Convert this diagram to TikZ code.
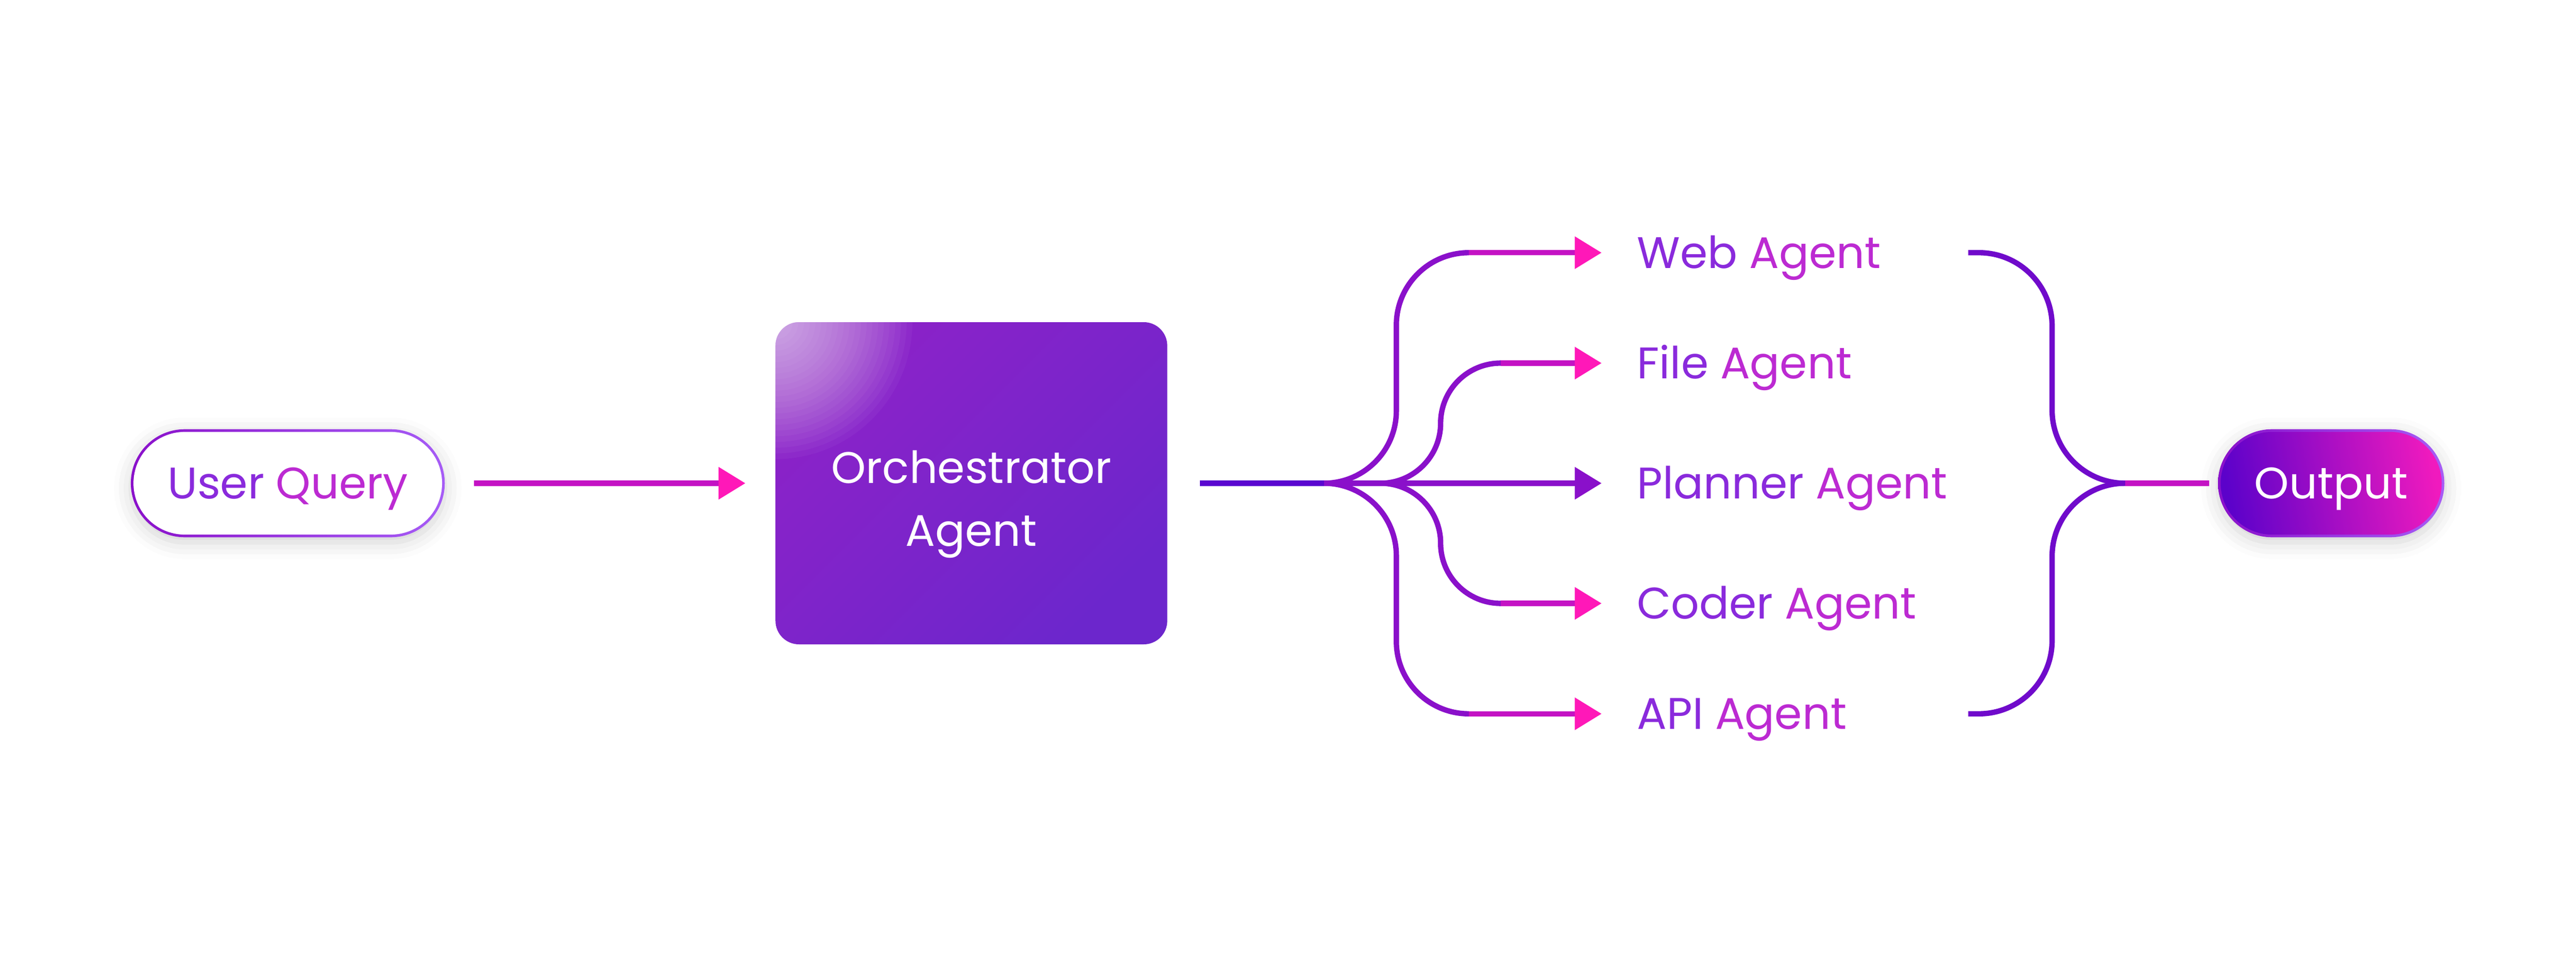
\documentclass[tikz,border=0pt]{standalone}
\usepackage{fontspec}
\setmainfont{Poppins}
\usetikzlibrary{positioning,calc,arrows.meta,shadows.blur}

\definecolor{violetdeep}{HTML}{5A06D0}
\definecolor{violetmid}{HTML}{700ACB}
\definecolor{grape}{HTML}{8A10CA}
\definecolor{orchid}{HTML}{C412C4}
\definecolor{hotpink}{HTML}{FF18B8}
\definecolor{lavender}{HTML}{A65CF6}
\definecolor{wordviolet}{HTML}{8A2ADC}
\definecolor{wordpink}{HTML}{BC2AD2}
\definecolor{orchtop}{HTML}{8C22C8}
\definecolor{orchbottom}{HTML}{6C26CC}
\definecolor{outleft}{HTML}{5C02CA}
\definecolor{outright}{HTML}{F01ABE}

\tikzset{
  flow/.style={line width=0.16cm},
  headtip/.style={-{Triangle[length=0.8cm,width=0.93cm,color=#1]}},
  ring/.style={rounded corners=1.61cm, minimum height=3.22cm, inner sep=0pt,
    left color=grape, middle color=hotpink, right color=lavender,
    blur shadow={shadow xshift=0cm, shadow yshift=-0.15cm, shadow blur radius=0.5cm, shadow opacity=18}},
  capline/.style={text height=0.92cm, text depth=0cm, inner sep=0pt},
  agentlabel/.style={capline, anchor=west},
}

\begin{document}
\begin{tikzpicture}[font=\fontsize{37.5}{53.5}\selectfont]
    \useasboundingbox (0,-14.4) rectangle (76.8,14.4);

    % Query
    \node[ring, capline, minimum width=9.36cm,
      path picture={\fill[white, rounded corners=1.53cm] ($(path picture bounding box.south west)+(0.08,0.08)$) rectangle ($(path picture bounding box.north east)-(0.08,0.08)$);}]
      (query) at (8.58,0) {\textcolor{wordviolet}{User} \textcolor{wordpink}{Query}};

    % Orchestrator
    \node[rounded corners=0.7cm, minimum width=11.68cm, minimum height=9.6cm,
      left color=orchtop, right color=orchbottom, shading angle=45,
      path picture={\foreach \k in {1,...,24} \fill[white, opacity=0.04] (path picture bounding box.north west) circle (\k*0.17cm);}]
      (orch) at (28.96,0) {};
    \node[text=white, align=center, anchor=base] (orchlabel) at ([yshift=-1.88cm]orch.center) {Orchestrator\\Agent};

    % Agents
    \foreach \name/\word/\y in {web/Web/6.87, file/File/3.58, planner/Planner/0, coder/Coder/-3.58, api/API/-6.87}
      \node[agentlabel] (\name) at (48.8,\y) {\textcolor{wordviolet}{\word} \textcolor{wordpink}{Agent}};

    % Output
    \node[ring, capline, minimum width=6.75cm, text=white,
      path picture={\shade[rounded corners=1.53cm, left color=outleft, right color=outright, shading angle=100] ($(path picture bounding box.south west)+(0.08,0.08)$) rectangle ($(path picture bounding box.north east)-(0.08,0.08)$);}]
      (output) at (69.50,0) {Output};

    % Query to orchestrator
    \draw[flow, orchid, headtip=hotpink] ([xshift=0.87cm]query.east) -- ([xshift=-0.89cm]orch.west);

    % Fan out
    \coordinate (trunk) at ([xshift=0.96cm]orch.east);
    \coordinate (fork) at (39.47,0);
    \foreach \name/\y/\fx/\r in {web/6.87/39.47/2.16, file/3.58/41.16/1.79, coder/-3.58/41.16/1.79, api/-6.87/39.47/2.16} {
      \draw[flow, grape, rounded corners=\r cm] (\fx,0) -| ({\fx+\r},\y) -- ({\fx+2*\r},\y) coordinate (\name bend);
      \draw[flow, orchid, headtip=hotpink, shorten >=1.05cm] (\name bend) -- (\name.west);
    }
    \draw[flow, violetdeep] (trunk) -- (fork);
    \draw[flow, grape, headtip=grape, shorten >=1.05cm] (fork) -- (planner.west);

    % Merge
    \coordinate (webout) at (58.68,6.87);
    \coordinate (apiout) at (58.68,-6.87);
    \coordinate (join) at (63.36,0);
    \foreach \src in {webout, apiout}
      \draw[flow, violetmid, rounded corners=2.18cm] (\src) -| (61.18,0) -- (join);
    \draw[flow, orchid, shorten >=0.25cm] (join) -- (output.west);
\end{tikzpicture}
\end{document}
